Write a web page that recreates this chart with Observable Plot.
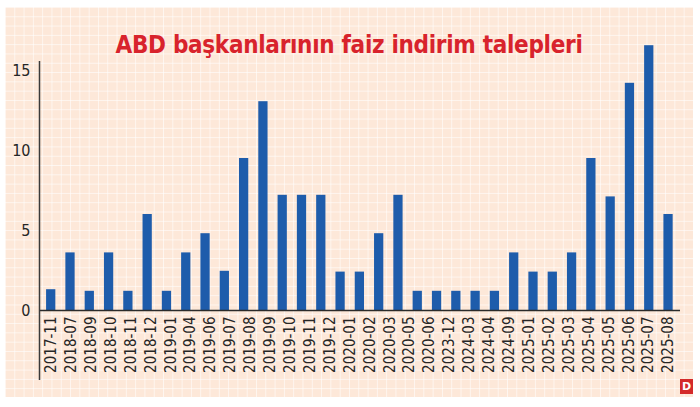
<!DOCTYPE html>
<html>
<head>
<meta charset="utf-8">
<script src="https://cdn.jsdelivr.net/npm/d3@7"></script>
<script src="https://cdn.jsdelivr.net/npm/@observablehq/plot@0.6"></script>
<style>
  html, body { margin: 0; padding: 0; background: #ffffff; }
  body { width: 700px; height: 407px; position: relative; overflow: hidden; }
  #panel {
    position: absolute; left: 5px; top: 7px; width: 688px; height: 390px;
    background-color: #fde8d9;
    background-image:
      linear-gradient(to right, rgba(255,255,255,0.6) 1px, transparent 1px),
      linear-gradient(to bottom, rgba(255,255,255,0.6) 1px, transparent 1px);
    background-size: 9.3px 9.3px;
  }
  #chart { position: absolute; left: 0; top: 0; }
  #title {
    position: absolute; left: 0; top: 26px; width: 688px; text-align: center;
    font-family: "Liberation Sans Narrow", "DejaVu Sans Condensed", "Roboto", sans-serif;
    font-stretch: condensed; font-weight: 700; font-size: 24px; line-height: 24px;
    color: #d8232c; letter-spacing: -0.3px;
  }
  #logo {
    position: absolute; left: 675px; top: 372px; width: 13px; height: 15px;
    background: #d42a2a; color: #fff; font-family: "DejaVu Sans", sans-serif;
    font-weight: 700; font-size: 11px; line-height: 15px; text-align: center;
  }
</style>
</head>
<body>
<div id="panel">
  <div id="chart"></div>
  <div id="title">ABD başkanlarının faiz indirim talepleri</div>
  <div id="logo">D</div>
</div>
<script>
// Tick labels shown under the bars (32 labels)
const labels = ["2017-11","2018-07","2018-09","2018-10","2018-11","2018-12","2019-01","2019-04","2019-06","2019-07","2019-08","2019-09","2019-10","2019-11","2019-12","2020-01","2020-02","2020-03","2020-05","2020-06","2023-12","2024-03","2024-04","2024-09","2025-01","2025-02","2025-03","2025-04","2025-05","2025-06","2025-07","2025-08"];
// Bar values (33 bars)
const values = [1.3,3.6,1.2,3.6,1.2,6.0,1.2,3.6,4.8,2.45,9.5,13.05,7.2,7.2,7.2,2.4,2.4,4.8,7.2,1.2,1.2,1.2,1.2,1.2,3.6,2.4,2.4,3.6,9.5,7.1,14.2,16.55,6.0];
const yTicks = [0, 5, 10, 15];

const bars = values.map((v, i) => ({i, value: v}));
const nb = values.length, nl = labels.length;
const labelPos = labels.map((_, j) => j * (nb - 1) / (nl - 1));
const labelMap = new Map(labelPos.map((p, j) => [p, labels[j]]));

const font = '"Liberation Sans Narrow", "DejaVu Sans Condensed", "Roboto", sans-serif';

const xDomain = [-0.607, 32.62];
const chart = Plot.plot({
  width: 688,
  height: 390,
  marginLeft: 34,
  marginRight: 13,
  marginTop: 20,
  marginBottom: 87,
  style: {background: "transparent", overflow: "visible", color: "#262626", fontFamily: font},
  x: {domain: xDomain, axis: null},
  y: {domain: [0, 17.6875], axis: null},
  marks: [
    Plot.rectY(bars, {x1: d => d.i - 0.24, x2: d => d.i + 0.24, y1: 0, y2: "value", fill: "#1e5cab"}),
    Plot.ruleY([0], {stroke: "#2b2b2b", strokeWidth: 1.5}),
    Plot.ruleX([xDomain[0]], {y1: -4.375, y2: 15.56, stroke: "#3a3a3a", strokeWidth: 1.5}),
    Plot.axisY({ticks: yTicks, tickSize: 0, tickPadding: 9, fontSize: 16, fontFamily: font, label: null}),
    Plot.axisX(labelPos, {tickFormat: d => labelMap.get(d), tickRotate: -90, tickSize: 0, tickPadding: 6, fontSize: 15, fontFamily: font, label: null})
  ]
});
document.getElementById("chart").appendChild(chart);
</script>
</body>
</html>
